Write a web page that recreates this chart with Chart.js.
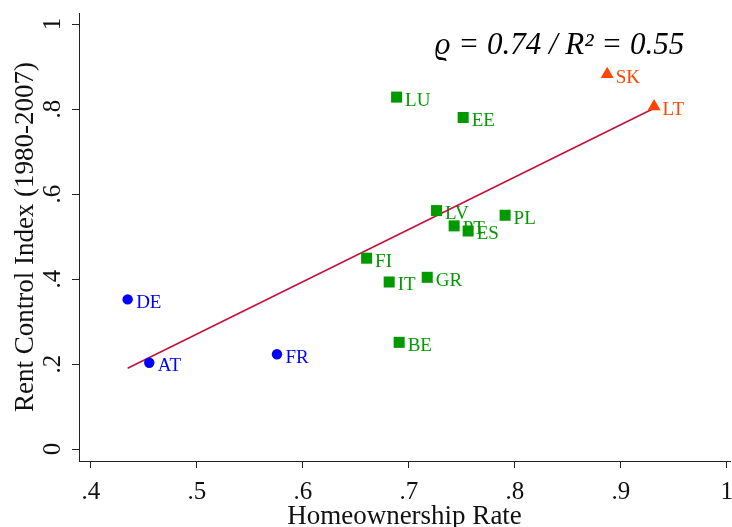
<!DOCTYPE html>
<html><head><meta charset="utf-8">
<script src="https://cdn.jsdelivr.net/npm/chart.js@4"></script>
<style>html,body{margin:0;padding:0;background:#fff}canvas{display:block}</style>
</head><body>
<canvas id="c" width="732" height="527"></canvas>
<script>
// ---- data ----
const xTicks = [0.4, 0.5, 0.6, 0.7, 0.8, 0.9, 1];
const xTickLabels = ['.4', '.5', '.6', '.7', '.8', '.9', '1'];
const yTicks = [0, 0.2, 0.4, 0.6, 0.8, 1];
const yTickLabels = ['0', '.2', '.4', '.6', '.8', '1'];

const blueCountries = ['DE', 'AT', 'FR'];
const blueOwnership = [0.4346, 0.4550, 0.5755];
const blueRentControl = [0.352, 0.203, 0.223];

const greenCountries = ['LU', 'EE', 'LV', 'PT', 'ES', 'PL', 'FI', 'IT', 'GR', 'BE'];
const greenOwnership = [0.6884, 0.7512, 0.7261, 0.7427, 0.7559, 0.7908, 0.6601, 0.6814, 0.7173, 0.6908];
const greenRentControl = [0.828, 0.780, 0.561, 0.525, 0.513, 0.550, 0.449, 0.393, 0.404, 0.251];

const orangeCountries = ['SK', 'LT'];
const orangeOwnership = [0.8871, 0.9314];
const orangeRentControl = [0.882, 0.806];

const fitOwnership = [0.4346, 0.9314];
const fitRentControl = [0.190, 0.802];

const statText = 'ϱ = 0.74 / R² = 0.55';

// ---- styles ----
const SERIF = '"Liberation Serif", "Times New Roman", "DejaVu Serif", serif';
const BLUE = '#0000FF', GREEN = '#009A00', ORANGE = '#FF4500', LINE = '#C8103C', AXIS = '#222';

const toPts = (xs, ys) => xs.map((x, i) => ({x, y: ys[i]}));

const pointLabels = {
  id: 'pointLabels',
  beforeDatasetsDraw(chart) {
    const ctx = chart.ctx;
    ctx.save();
    ctx.font = '19px ' + SERIF;
    ctx.textAlign = 'left';
    ctx.textBaseline = 'alphabetic';
    chart.data.datasets.forEach((ds, di) => {
      if (!ds.names) return;
      const meta = chart.getDatasetMeta(di);
      ctx.fillStyle = ds.backgroundColor;
      meta.data.forEach((el, i) => {
        ctx.fillText(ds.names[i], el.x + 8.5, el.y + 8.5);
      });
    });
    ctx.restore();
  }
};

const extras = {
  id: 'extras',
  afterDraw(chart) {
    const ctx = chart.ctx;
    const ys = chart.scales.y, xs = chart.scales.x;
    ctx.save();
    ctx.fillStyle = '#111';
    ctx.font = '25px ' + SERIF;
    ctx.textAlign = 'center';
    ctx.textBaseline = 'alphabetic';
    yTicks.forEach((v, i) => {
      const py = ys.getPixelForValue(v);
      ctx.save();
      ctx.translate(ys.right - 19, py);
      ctx.rotate(-Math.PI / 2);
      ctx.fillText(yTickLabels[i], 0, 0);
      ctx.restore();
    });
    // statistic annotation
    ctx.fillStyle = '#000';
    ctx.font = 'italic 31px ' + SERIF;
    ctx.textAlign = 'left';
    ctx.fillText(statText, xs.getPixelForValue(0.7245), ys.getPixelForValue(0.929));
    ctx.restore();
  }
};

new Chart(document.getElementById('c'), {
  type: 'scatter',
  data: {
    datasets: [
      {type: 'line', data: toPts(fitOwnership, fitRentControl), borderColor: LINE, borderWidth: 1.6,
       pointRadius: 0, fill: false, order: 10},
      {data: toPts(blueOwnership, blueRentControl), names: blueCountries, backgroundColor: BLUE,
       borderWidth: 0, pointStyle: 'circle', pointRadius: 5.2, order: 1},
      {data: toPts(greenOwnership, greenRentControl), names: greenCountries, backgroundColor: GREEN,
       borderWidth: 0, pointStyle: 'rect', pointRadius: 7.8, order: 1},
      {data: toPts(orangeOwnership, orangeRentControl), names: orangeCountries, backgroundColor: ORANGE,
       borderWidth: 0, pointStyle: 'triangle', pointRadius: 7.5, order: 1}
    ]
  },
  options: {
    responsive: false,
    devicePixelRatio: 1,
    animation: false,
    layout: {autoPadding: false, padding: {top: 13, right: 2, left: 0, bottom: 0}},
    plugins: {legend: {display: false}, tooltip: {enabled: false}},
    scales: {
      x: {
        type: 'linear', min: 0.3887, max: 1.003,
        afterBuildTicks: s => { s.ticks = xTicks.map(v => ({value: v})); },
        afterFit: s => { s.height = 66; s.paddingLeft = 0; s.paddingRight = 0; },
        ticks: {
          callback: v => xTickLabels[xTicks.findIndex(t => Math.abs(t - v) < 1e-9)],
          font: {family: SERIF, size: 25}, color: '#111', padding: 9,
          maxRotation: 0, minRotation: 0, autoSkip: false
        },
        grid: {drawOnChartArea: false, drawTicks: true, tickLength: 7, color: AXIS, lineWidth: 1},
        border: {display: true, color: AXIS, width: 1},
        title: {display: true, text: 'Homeownership Rate', color: '#111',
                font: {family: SERIF, size: 27, lineHeight: 1}, padding: {top: 0, bottom: -3}}
      },
      y: {
        type: 'linear', min: -0.0282, max: 1.0259,
        afterBuildTicks: s => { s.ticks = yTicks.map(v => ({value: v})); },
        afterFit: s => { s.width = 79; s.paddingTop = 0; s.paddingBottom = 0; },
        ticks: {display: false},
        grid: {drawOnChartArea: false, drawTicks: true, tickLength: 7, color: AXIS, lineWidth: 1},
        border: {display: true, color: AXIS, width: 1},
        title: {display: true, text: 'Rent Control Index (1980-2007)', color: '#111',
                font: {family: SERIF, size: 27, lineHeight: 1}, padding: {top: 12.5, bottom: 0}}
      }
    }
  },
  plugins: [pointLabels, extras]
});
</script>
</body></html>
